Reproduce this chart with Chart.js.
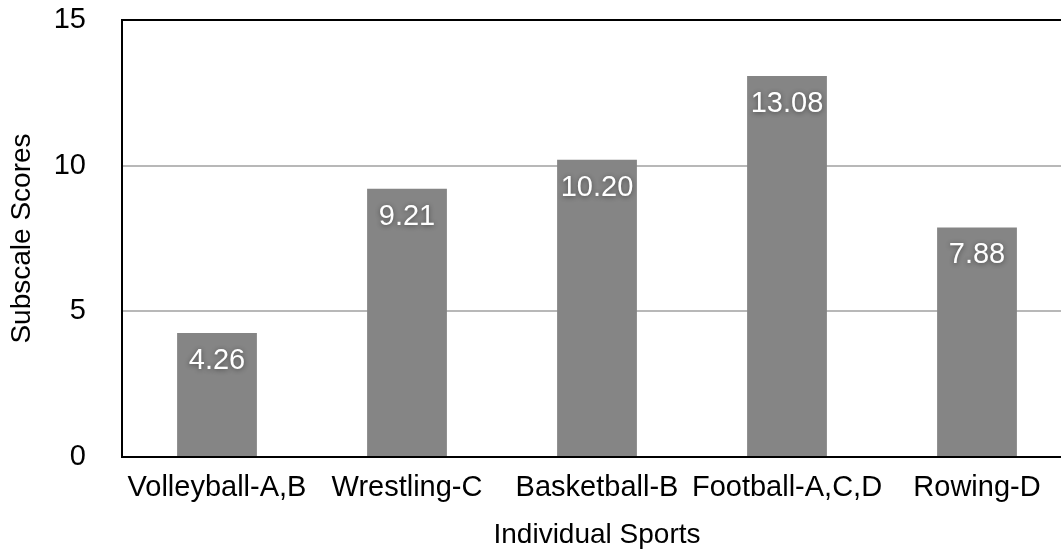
<!DOCTYPE html>
<html>
<head>
<meta charset="utf-8">
<script src="https://cdn.jsdelivr.net/npm/chart.js@4.4.1/dist/chart.umd.min.js"></script>
<style>
  html, body { margin: 0; padding: 0; background: #fff; overflow: hidden; }
  #wrap { position: relative; width: 1072px; height: 552px; }
</style>
</head>
<body>
<div id="wrap"><canvas id="chart"></canvas></div>
<script>
const sports = ['Volleyball-A,B', 'Wrestling-C', 'Basketball-B', 'Football-A,C,D', 'Rowing-D'];
const scores = [4.26, 9.21, 10.20, 13.08, 7.88];
const yTicks = [0, 5, 10, 15];

const FONT = 'Helvetica, Arial, "Liberation Sans", sans-serif';

// white value labels inside the top of each bar
const valueLabels = {
  id: 'valueLabels',
  afterDatasetsDraw(chart) {
    const ctx = chart.ctx;
    const meta = chart.getDatasetMeta(0);
    ctx.save();
    ctx.font = '29px ' + FONT;
    ctx.fillStyle = '#ffffff';
    ctx.textAlign = 'center';
    ctx.textBaseline = 'middle';
    ctx.shadowColor = 'rgba(0,0,0,0.45)';
    ctx.shadowBlur = 5;
    ctx.shadowOffsetY = 1;
    meta.data.forEach((bar, i) => {
      ctx.fillText(scores[i].toFixed(2), bar.x, bar.y + 28);
    });
    ctx.restore();
  }
};

new Chart(document.getElementById('chart'), {
  type: 'bar',
  data: {
    labels: sports,
    datasets: [{
      data: scores,
      backgroundColor: '#858585',
      borderWidth: 0,
      categoryPercentage: 1,
      barPercentage: 0.42,
    }],
  },
  options: {
    responsive: true,
    maintainAspectRatio: false,
    animation: false,
    layout: { padding: { top: 20, left: 0, right: 0, bottom: 0 } },
    plugins: { legend: { display: false }, tooltip: { enabled: false } },
    scales: {
      x: {
        grid: { display: false, drawTicks: false },
        border: { color: '#000', width: 2 },
        ticks: { color: '#000', font: { family: FONT, size: 29 }, padding: 14, maxRotation: 0, autoSkip: false },
        title: { display: true, text: 'Individual Sports', color: '#000', font: { family: FONT, size: 28 }, padding: { top: 0, bottom: 0 } },
        afterFit: (scale) => { scale.height = 95; },
      },
      y: {
        min: 0,
        max: 15,
        afterBuildTicks: (axis) => { axis.ticks = yTicks.map(v => ({ value: v })); },
        grid: {
          drawTicks: false,
          lineWidth: 2,
          color: (c) => c.tick && c.tick.value === 15 ? '#000' : (c.tick && c.tick.value === 0 ? 'rgba(0,0,0,0)' : '#b8b8b8'),
        },
        border: { color: '#000', width: 2 },
        ticks: { color: '#000', font: { family: FONT, size: 29 }, padding: 36 },
        title: { display: true, text: 'Subscale Scores', color: '#000', font: { family: FONT, size: 28 }, padding: { top: 5, bottom: 0 } },
        afterFit: (scale) => {
          scale.width = 122;
          scale.paddingTop = 0;
          scale.paddingBottom = 0;
        },
      },
    },
  },
  plugins: [valueLabels],
});
</script>
</body>
</html>
